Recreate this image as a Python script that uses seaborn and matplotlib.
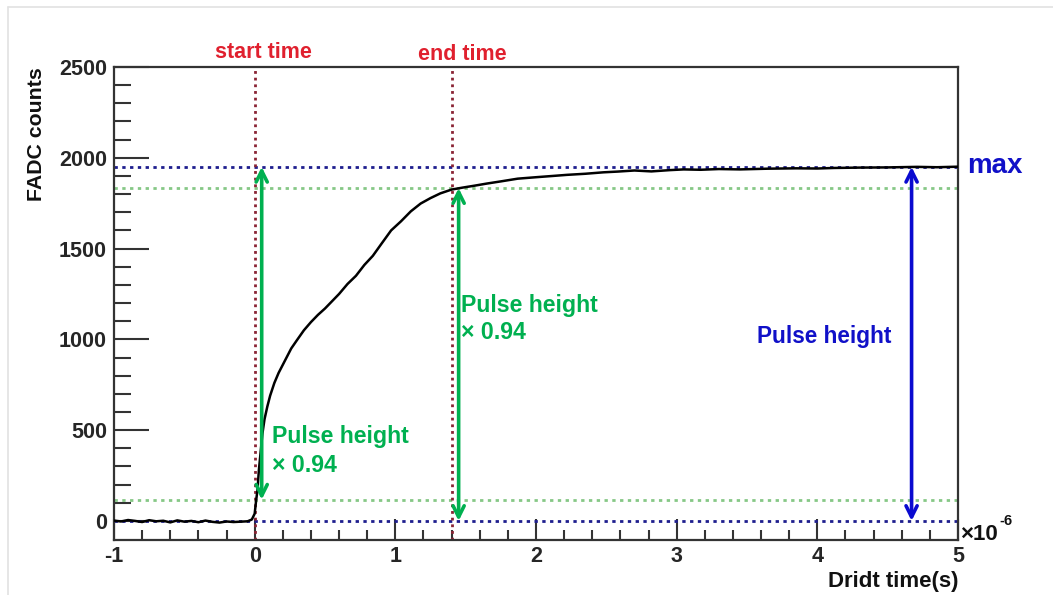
import numpy as np
import pandas as pd
import matplotlib
matplotlib.use("Agg")
import matplotlib.pyplot as plt
from matplotlib.lines import Line2D
from matplotlib.ticker import MultipleLocator, FixedLocator
import seaborn as sns

# FADC waveform: drift time in microseconds, ADC counts
time_us = [-1.00, -0.95, -0.90, -0.85, -0.80, -0.75, -0.70, -0.65, -0.60, -0.55,
           -0.50, -0.45, -0.40, -0.35, -0.30, -0.25, -0.20, -0.15, -0.10, -0.05,
           -0.02, 0.00, 0.01, 0.02, 0.03, 0.045, 0.055, 0.07, 0.09, 0.11,
           0.14, 0.17, 0.20, 0.23, 0.26, 0.30, 0.35, 0.40, 0.45, 0.50,
           0.55, 0.60, 0.66, 0.72, 0.78, 0.84, 0.90, 0.97, 1.04, 1.11,
           1.18, 1.25, 1.32, 1.40, 1.48, 1.56, 1.65, 1.75, 1.87, 2.00,
           2.12, 2.22, 2.35, 2.48, 2.58, 2.70, 2.82, 2.95, 3.05, 3.17,
           3.30, 3.45, 3.65, 3.85, 4.00, 4.12, 4.30, 4.50, 4.71, 4.85, 5.00]
counts = [2, -3, 5, 0, -6, 4, -2, 1, -8, 3,
          -4, 0, -7, 2, -5, -9, -3, -6, -4, -2,
          8, 40, 110, 170, 280, 400, 480, 560, 630, 690,
          760, 815, 860, 905, 950, 995, 1050, 1095, 1135, 1170,
          1210, 1250, 1305, 1350, 1410, 1460, 1525, 1600, 1650, 1705,
          1748, 1778, 1804, 1825, 1836, 1846, 1858, 1870, 1885, 1893,
          1900, 1906, 1912, 1920, 1924, 1930, 1925, 1932, 1936, 1934,
          1938, 1936, 1940, 1942, 1941, 1944, 1946, 1947, 1950, 1948, 1951]

pulse_max = 1950
fraction = 0.94
start_time = 0.0
end_time = 1.40

green_arrow_x = [0.05, 1.45]
blue_arrow_x = 4.67

x_ticks = [-1, 0, 1, 2, 3, 4, 5]
y_ticks = [0, 500, 1000, 1500, 2000, 2500]

sns.set_theme(style="white")
plt.rcParams["font.family"] = ["Liberation Sans", "DejaVu Sans"]
plt.rcParams["font.weight"] = "bold"

W, H = 1053, 595
fig = plt.figure(figsize=(W / 100, H / 100), dpi=100)
ax = fig.add_axes([114 / W, 1 - 540 / H, (958 - 114) / W, (540 - 67) / H])


def fx(px):
    return px / W


def fy(py):
    return 1 - py / H


df = pd.DataFrame({"t": time_us, "adc": counts})

green = "#00b050"
blue_txt = "#1010c8"
red_txt = "#e0202e"

# reference levels
ax.axhline(pulse_max, color="#1e1e8e", lw=2.0, ls=(0, (1.2, 1.6)), zorder=1)
ax.axhline(0, color="#1e1e8e", lw=2.0, ls=(0, (1.2, 1.6)), zorder=1)
ax.axhline(pulse_max * fraction, color="#86c886", lw=2.0, ls=(0, (1.2, 1.6)), zorder=1)
ax.axhline(pulse_max * (1 - fraction), color="#86c886", lw=2.0, ls=(0, (1.2, 1.6)), zorder=1)
ax.axvline(start_time, color="#8a2434", lw=2.0, ls=(0, (1.0, 1.4)), zorder=1)
ax.axvline(end_time, color="#8a2434", lw=2.0, ls=(0, (1.0, 1.4)), zorder=1)

sns.lineplot(data=df, x="t", y="adc", ax=ax, color="black", lw=1.8, zorder=3)

# arrows
arrow_kw = dict(arrowstyle="<->", lw=2.6, mutation_scale=20, shrinkA=0, shrinkB=0)
ax.annotate("", xy=(green_arrow_x[0], pulse_max), xytext=(green_arrow_x[0], pulse_max * (1 - fraction)),
            arrowprops=dict(color=green, **arrow_kw), zorder=4)
ax.annotate("", xy=(green_arrow_x[1], pulse_max * fraction), xytext=(green_arrow_x[1], 0),
            arrowprops=dict(color=green, **arrow_kw), zorder=4)
ax.annotate("", xy=(blue_arrow_x, pulse_max), xytext=(blue_arrow_x, 0),
            arrowprops=dict(color="#0a0ad0", **arrow_kw), zorder=4)

ax.set_xlim(-1, 5)
ax.set_ylim(-105, 2500)
ax.set_xticks(x_ticks)
ax.set_yticks(y_ticks)
ax.set_xticklabels([str(v) for v in x_ticks])
ax.set_yticklabels([str(v) for v in y_ticks])
ax.xaxis.set_minor_locator(MultipleLocator(0.2))
ax.yaxis.set_minor_locator(FixedLocator([v for v in range(100, 2500, 100) if v % 500]))
ax.tick_params(axis="y", which="major", direction="in", length=25, width=1.5, color="#333333",
               left=True, right=False, labelsize=15.5, pad=5)
ax.tick_params(axis="y", which="minor", direction="in", length=12, width=1.5, color="#333333",
               left=True, right=False)
ax.tick_params(axis="x", which="major", direction="in", length=15, width=1.5, color="#333333",
               bottom=True, top=False, labelsize=15.5, pad=4)
ax.tick_params(axis="x", which="minor", direction="in", length=7, width=1.5, color="#333333",
               bottom=True, top=False)
for lab in ax.get_xticklabels() + ax.get_yticklabels():
    lab.set_fontweight("bold")
for sp in ax.spines.values():
    sp.set_color("#333333")
    sp.set_linewidth(1.6)
ax.set_xlabel("")
ax.set_ylabel("")

# axis titles
fig.text(fx(36), fy(134), "FADC counts", rotation=90, ha="center", va="center",
         fontsize=15.3, fontweight="bold", color="#111111")
fig.text(fx(958), fy(582), "Dridt time(s)", ha="right", va="center",
         fontsize=16, fontweight="bold", color="#111111")
fig.text(fx(960), fy(534), "\u00d710", ha="left", va="center",
         fontsize=16, fontweight="bold", color="#111111")
fig.text(fx(999), fy(521), "-6", ha="left", va="center",
         fontsize=10.5, fontweight="bold", color="#111111")

# marker labels
fig.text(fx(263), fy(52), "start time", ha="center", va="center",
         fontsize=15.5, fontweight="bold", color=red_txt)
fig.text(fx(462), fy(55), "end time", ha="center", va="center",
         fontsize=15.5, fontweight="bold", color=red_txt)
fig.text(fx(272), fy(451), "Pulse height\n\u00d7 0.94", ha="left", va="center",
         fontsize=16.7, fontweight="bold", color=green, linespacing=1.3)
fig.text(fx(461), fy(319), "Pulse height\n\u00d7 0.94", ha="left", va="center",
         fontsize=16.7, fontweight="bold", color=green, linespacing=1.2)
fig.text(fx(824), fy(336), "Pulse height", ha="center", va="center",
         fontsize=16.3, fontweight="bold", color=blue_txt)
fig.text(fx(967), fy(166), "max", ha="left", va="center",
         fontsize=20, fontweight="bold", color=blue_txt)

# light page frame
fig.add_artist(Line2D([fx(8), fx(8)], [fy(7), 0], transform=fig.transFigure, color="#e2e2e2", lw=1.2))
fig.add_artist(Line2D([fx(8), 1], [fy(7), fy(7)], transform=fig.transFigure, color="#e2e2e2", lw=1.2))

fig.savefig("out.png", dpi=100)
